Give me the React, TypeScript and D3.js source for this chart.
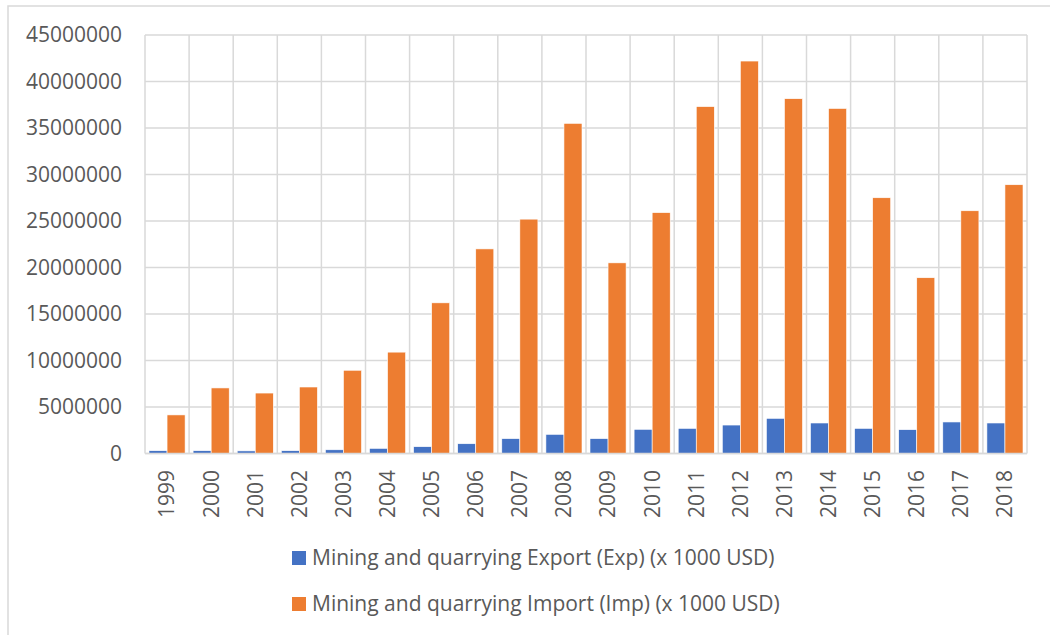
import React from "react";
import * as d3 from "d3";

const years = ["1999","2000","2001","2002","2003","2004","2005","2006","2007","2008","2009","2010","2011","2012","2013","2014","2015","2016","2017","2018"];
const exportVals = [300000,300000,280000,300000,400000,550000,730000,1050000,1600000,2060000,1600000,2600000,2700000,3060000,3780000,3280000,2700000,2560000,3390000,3280000];
const importVals = [4150000,7050000,6500000,7150000,8950000,10900000,16200000,22000000,25200000,35500000,20500000,25900000,37300000,42200000,38150000,37100000,27500000,18900000,26100000,28900000];
const yTicks = [0,5000000,10000000,15000000,20000000,25000000,30000000,35000000,40000000,45000000];
const seriesNames = ["Mining and quarrying Export (Exp) (x 1000 USD)", "Mining and quarrying Import (Imp) (x 1000 USD)"];
const seriesColors = ["#4472C4", "#ED7D31"];

export default function App() {
  const W = 1050, H = 635;
  const left = 145, right = 1027, top = 35, bottom = 453.5;
  const x0 = d3.scaleBand<string>().domain(years).range([left, right]).padding(0);
  const bw = x0.bandwidth();
  const x1 = d3.scaleBand<number>().domain([0, 1]).range([4, bw - 4]).padding(0);
  const y = d3.scaleLinear().domain([0, 45000000]).range([bottom, top]);
  const series = [exportVals, importVals];
  const font = "'Open Sans', 'Noto Sans', sans-serif";
  const grid = "#d9d9d9";
  const textColor = "#595959";

  return (
    <svg width={W} height={H} style={{ position: "absolute", left: 0, top: 0, background: "#fff" }} fontFamily={font}>
      <rect x={8} y={6} width={W + 10} height={H + 10} fill="#fff" stroke={grid} strokeWidth={1.5} />
      {yTicks.map((t) => (
        <g key={"y" + t}>
          <line x1={left} x2={right} y1={y(t)} y2={y(t)} stroke={grid} strokeWidth={1.5} />
          <text x={122} y={y(t)} dy="0.35em" textAnchor="end" fontSize={21} fill={textColor}>{t}</text>
        </g>
      ))}
      {years.map((yr) => (
        <line key={"v" + yr} x1={x0(yr)!} x2={x0(yr)!} y1={top} y2={bottom} stroke={grid} strokeWidth={1.5} />
      ))}
      <line x1={right} x2={right} y1={top} y2={bottom} stroke={grid} strokeWidth={1.5} />
      {years.map((yr, i) => (
        <g key={"b" + yr}>
          {series.map((s, k) => (
            <rect key={k} x={x0(yr)! + x1(k)!} y={y(s[i])} width={x1.bandwidth()} height={bottom - y(s[i])}
              fill={seriesColors[k]} stroke="#fff" strokeWidth={0.6} />
          ))}
          <text transform={`translate(${x0(yr)! + bw / 2},470) rotate(-90)`} textAnchor="end" dy="0.35em" fontSize={21} fill={textColor}>{yr}</text>
        </g>
      ))}
      <line x1={left} x2={right} y1={bottom} y2={bottom} stroke={grid} strokeWidth={1.5} />
      {seriesNames.map((n, k) => (
        <g key={"l" + k}>
          <rect x={292} y={551 + k * 46} width={14} height={14} fill={seriesColors[k]} />
          <text x={312} y={558 + k * 46} dy="0.35em" fontSize={21} fill={textColor}>{n}</text>
        </g>
      ))}
    </svg>
  );
}
